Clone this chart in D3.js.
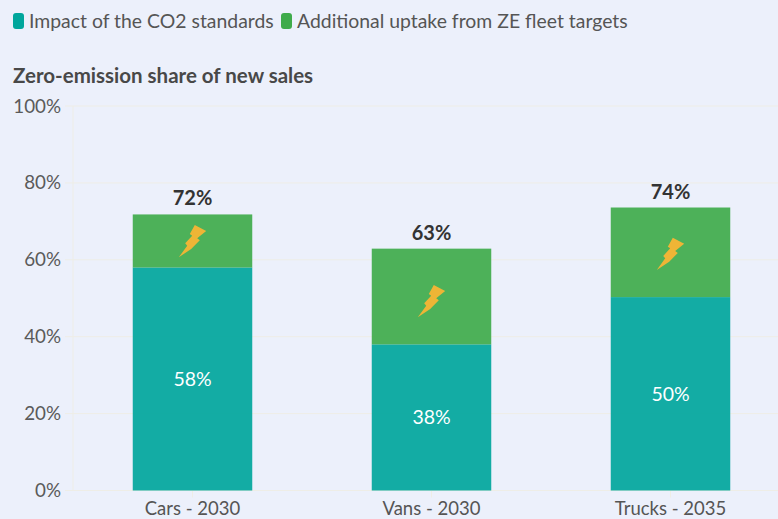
<!DOCTYPE html>
<html lang="en">
  <head>
    <meta charset="UTF-8" />
    <title>Zero-emission share of new sales</title>
    <script src="https://d3js.org/d3.v7.min.js"></script>
    <style>
      html, body { margin: 0; padding: 0; background: #ecf0fb; overflow: hidden; }
      text { font-family: "Lato", sans-serif; }
    </style>
  </head>
  <body>
    <div id="chart"></div>

    <script>
      const categories = ["Cars - 2030", "Vans - 2030", "Trucks - 2035"];
      const seriesNames = ["Impact of the CO2 standards", "Additional uptake from ZE fleet targets"];
      const co2Standards = [58, 38, 50.3];
      const zeTargets = [13.8, 24.9, 23.3];
      const totals = [72, 63, 74];
      const boltLevels = [64.9, 49.3, 61.6];
      const yTicks = [0, 20, 40, 60, 80, 100];
      const colors = ["#00a69c", "#3fab4b"];

      const width = 778, height = 519;
      const margin = { top: 106, left: 73, bottom: 28.5 };

      const svg = d3
        .select("#chart")
        .append("svg")
        .attr("width", width)
        .attr("height", height);

      // plot runs past the right edge of the window
      const x = d3
        .scaleBand()
        .domain(categories)
        .range([margin.left, margin.left + 717])
        .paddingInner(0.5)
        .paddingOuter(0.25);

      const y = d3
        .scaleLinear()
        .domain([0, 100])
        .range([height - margin.bottom, margin.top]);

      // grid and axes
      const gridColor = "#eeede6";
      svg
        .append("g")
        .selectAll("line")
        .data(yTicks)
        .join("line")
        .attr("x1", margin.left - 8)
        .attr("x2", width)
        .attr("y1", (d) => y(d))
        .attr("y2", (d) => y(d))
        .attr("stroke", gridColor);

      svg
        .append("line")
        .attr("x1", margin.left)
        .attr("x2", margin.left)
        .attr("y1", y(100))
        .attr("y2", y(0))
        .attr("stroke", gridColor);

      svg
        .append("g")
        .attr("transform", `translate(0,${y(0)})`)
        .call(d3.axisBottom(x).tickSize(7).tickPadding(4))
        .call((g) => g.select(".domain").remove())
        .call((g) => g.selectAll("line").attr("stroke", gridColor))
        .selectAll("text")
        .attr("fill", "#555")
        .attr("font-size", 18.5)
        .style("font-family", '"Lato", sans-serif');

      svg
        .append("g")
        .selectAll("text")
        .data(yTicks)
        .join("text")
        .attr("x", 61)
        .attr("y", (d) => y(d))
        .attr("dy", "0.35em")
        .attr("text-anchor", "end")
        .attr("fill", "#5a5a5a")
        .attr("font-size", 18.8)
        .text((d) => d + "%");

      // stacked bars
      const rows = categories.map((c, i) => ({ category: c, a: co2Standards[i], b: zeTargets[i], total: totals[i], bolt: boltLevels[i] }));
      const stacked = d3.stack().keys(["a", "b"])(rows);

      svg
        .append("g")
        .selectAll("g")
        .data(stacked)
        .join("g")
        .attr("fill", (d, i) => colors[i])
        .attr("fill-opacity", 0.92)
        .selectAll("rect")
        .data((d) => d)
        .join("rect")
        .attr("x", (d) => x(d.data.category))
        .attr("y", (d) => y(d[1]))
        .attr("height", (d) => y(d[0]) - y(d[1]))
        .attr("width", x.bandwidth());

      // value inside the teal part
      svg
        .append("g")
        .selectAll("text")
        .data(rows)
        .join("text")
        .attr("x", (d) => x(d.category) + x.bandwidth() / 2)
        .attr("y", (d) => y(d.a / 2))
        .attr("dy", "0.35em")
        .attr("text-anchor", "middle")
        .attr("fill", "#fff")
        .attr("font-size", 19.5)
        .text((d) => Math.round(d.a) + "%");

      // total on top
      svg
        .append("g")
        .selectAll("text")
        .data(rows)
        .join("text")
        .attr("x", (d) => x(d.category) + x.bandwidth() / 2)
        .attr("y", (d) => y(d.a + d.b) - 9)
        .attr("text-anchor", "middle")
        .attr("fill", "#333")
        .attr("font-size", 20)
        .attr("font-weight", 700)
        .text((d) => d.total + "%");

      // lightning icon, drawn around its own centre
      const bolt = "M2.3,-16 L13.7,-10 L4.7,-2.7 L7.3,-0.7 L-1.3,8 L-13.7,16.3 L-5.3,4.7 L-7.3,2.3 L-0.3,-5.3 L-2.7,-7 Z";
      svg
        .append("g")
        .selectAll("path")
        .data(rows)
        .join("path")
        .attr("d", bolt)
        .attr("fill", "#eeb536")
        .attr("transform", (d) => `translate(${x(d.category) + x.bandwidth() / 2},${y(d.bolt)})`);

      // legend
      const legendX = [13, 281];
      const legend = svg
        .append("g")
        .selectAll("g")
        .data(seriesNames)
        .join("g")
        .attr("transform", (d, i) => `translate(${legendX[i]},21)`);

      legend
        .append("rect")
        .attr("y", -8)
        .attr("width", 11)
        .attr("height", 16)
        .attr("rx", 3)
        .attr("fill", (d, i) => colors[i]);

      legend
        .append("text")
        .attr("x", 16)
        .attr("dy", "0.35em")
        .attr("fill", "#555")
        .attr("font-size", 19.4)
        .text((d) => d);

      svg
        .append("text")
        .attr("x", 13)
        .attr("y", 83)
        .attr("fill", "#484848")
        .attr("font-size", 20.5)
        .attr("font-weight", 700)
        .text("Zero-emission share of new sales");
    </script>
  </body>
</html>
